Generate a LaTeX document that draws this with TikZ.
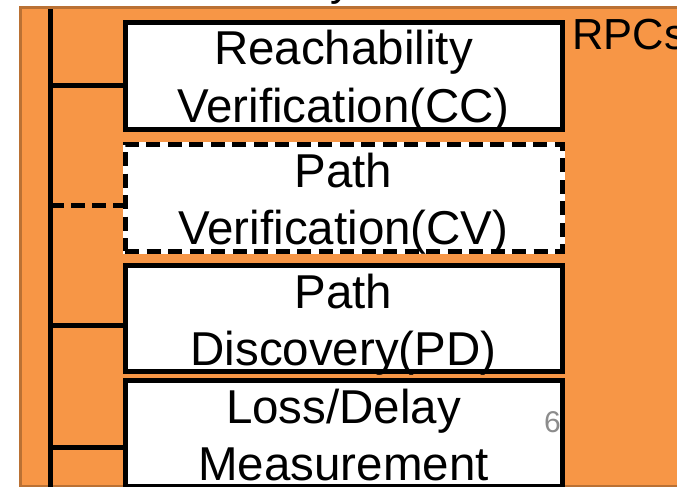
\documentclass[tikz,border=0pt]{standalone}
\usepackage{fontspec}
\setmainfont{Liberation Sans}
\usetikzlibrary{calc}

\definecolor{panelfill}{RGB}{247,150,70}
\definecolor{paneledge}{RGB}{186,113,52}
\definecolor{pagenum}{RGB}{140,140,140}

\tikzset{
  stepbox/.style={draw=black, fill=white, line width=5pt,
    minimum width=437pt, minimum height=106pt, inner sep=0pt},
  optbox/.style={stepbox, minimum height=107pt,
    preaction={draw=white, solid},
    dash pattern=on 14pt off 7.5pt},
  boxtext/.style={anchor=base, inner sep=0pt,
    font=\fontsize{47.5}{57}\selectfont},
  spine/.style={line width=5pt},
  link/.style={line width=5pt},
  optlink/.style={line width=5pt, dash pattern=on 13.5pt off 7.5pt},
}

\begin{document}
\begin{tikzpicture}[x=1pt, y=-1pt]
  \useasboundingbox (0,0) rectangle (677,487);
  \clip (0,0) rectangle (677,487);
  \fill[white] (0,0) rectangle (677,487);

  % heading above the panel, only its last descender is in view
  \node[anchor=base west, inner sep=0pt, font=\fontsize{43}{50}\selectfont]
    (head) at (330,-4) {y};

  % orange panel
  \draw[paneledge, fill=panelfill, line width=3pt] (20,7.5) rectangle (720,486);

  % label at the right of the panel
  \node[anchor=base west, inner sep=0pt, font=\fontsize{43.5}{50}\selectfont]
    (rpcs) at (572,50) {RPCs};

  % vertical spine
  \coordinate (spinetop) at (50,9);
  \coordinate (spinebot) at (50,490);
  \draw[spine] (spinetop) -- (spinebot);

  % boxes
  \node[stepbox] (b1) at (343.5,76) {};
  \node[optbox]  (b2) at (343.5,197.5) {};
  \node[stepbox] (b3) at (343.5,318) {};
  \node[stepbox] (b4) at (343.5,433) {};

  % connectors from the spine
  \coordinate (s1) at (50,85);
  \coordinate (s2) at (50,205);
  \coordinate (s3) at (50,325);
  \coordinate (s4) at (50,447);
  \draw[link]    (s1) -- (s1 -| b1.west);
  \draw[optlink] (s2) -- (s2 -| b2.west);
  \draw[link]    (s3) -- (s3 -| b3.west);
  \draw[link]    (s4) -- (s4 -| b4.west);

  % box texts
  \node[boxtext] (t1a) at ($(b1.north)+(0,44.5)$) {Reachability};
  \node[boxtext] (t1b) at ($(b1.north)+(0,102)$) {Verification(CC)};
  \node[boxtext] (t2a) at ($(b2.north)+(0,46)$) {Path};
  \node[boxtext] (t2b) at ($(b2.north)+(0,102.5)$) {Verification(CV)};
  \node[boxtext] (t3a) at ($(b3.north)+(0,46)$) {Path};
  \node[boxtext] (t3b) at ($(b3.north)+(0,103)$) {Discovery(PD)};
  \node[boxtext] (t4a) at ($(b4.north)+(0,46)$) {Loss/Delay};
  \node[boxtext] (t4b) at ($(b4.north)+(0,103)$) {Measurement};

  % page number
  \node[anchor=base west, inner sep=0pt, text=pagenum,
    font=\fontsize{30}{36}\selectfont] (pnum) at (544,432) {6};
\end{tikzpicture}
\end{document}
